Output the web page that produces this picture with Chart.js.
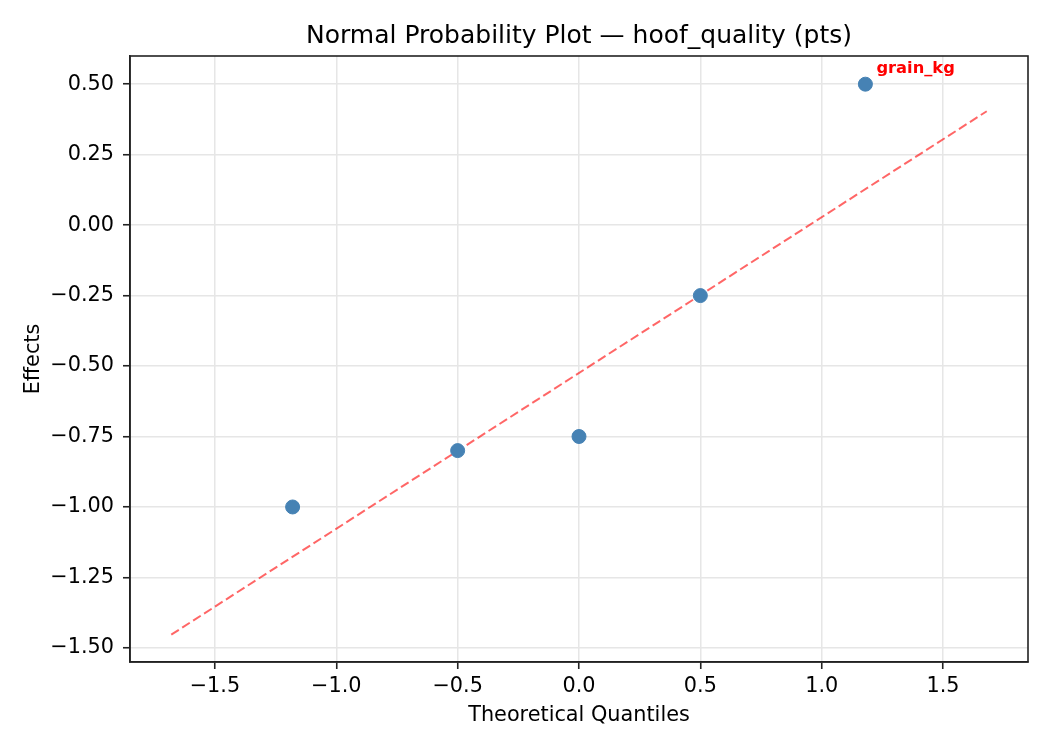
<!DOCTYPE html>
<html>
<head>
<meta charset="utf-8">
<title>Normal Probability Plot</title>
<script src="https://cdn.jsdelivr.net/npm/chart.js@4/dist/chart.umd.min.js"></script>
<style>
  html, body { margin: 0; padding: 0; background: #fff; }
  #grafico { display: block; }
</style>
</head>
<body>
<canvas id="grafico" width="1050" height="750"></canvas>
<script>
// Quantis teóricos (Blom) e efeitos estimados
const quantis = [-1.18, -0.50, 0.0, 0.50, 1.18];
const efeitos = [-1.00, -0.80, -0.75, -0.25, 0.50];

// Reta de referência tracejada
const retaX = [-1.68, 1.68];
const retaY = [-1.453, 0.404];

// Pontos rotulados
const rotulosNomes = ['grain_kg'];
const rotulosIndices = [4];

const titulo = 'Normal Probability Plot — hoof_quality (pts)';
const FONTE = '"DejaVu Sans", sans-serif';
const TAM = 20.8;

const menos = (s) => s.replace('-', '\u2212');
const fmtX = (v) => menos(v.toFixed(1));
const fmtY = (v) => menos(v.toFixed(2));

// Título centrado na área do gráfico, moldura (spines) e rótulos dos pontos
const extras = {
  id: 'extras',
  afterDraw(chart) {
    const { ctx, chartArea: a } = chart;
    ctx.save();
    ctx.strokeStyle = '#222';
    ctx.lineWidth = 1.6;
    ctx.strokeRect(a.left, a.top, a.right - a.left, a.bottom - a.top);

    ctx.fillStyle = '#000';
    ctx.font = `25px ${FONTE}`;
    ctx.textAlign = 'center';
    ctx.textBaseline = 'alphabetic';
    ctx.fillText(titulo, (a.left + a.right) / 2, 43);

    const meta = chart.getDatasetMeta(0);
    ctx.fillStyle = '#ff0000';
    ctx.font = `bold 16.3px ${FONTE}`;
    ctx.textAlign = 'left';
    rotulosNomes.forEach((nome, k) => {
      const p = meta.data[rotulosIndices[k]];
      ctx.fillText(nome, p.x + 11, p.y - 11);
    });
    ctx.restore();
  },
};

const gradeComum = {
  color: '#e6e6e6',
  lineWidth: 1.5,
  tickColor: '#222',
  tickWidth: 1.6,
  tickLength: 7,
};

new Chart(document.getElementById('grafico'), {
  type: 'scatter',
  data: {
    datasets: [
      {
        label: 'Efeitos',
        data: quantis.map((x, i) => ({ x, y: efeitos[i] })),
        backgroundColor: '#4682b4',
        borderColor: '#4682b4',
        pointRadius: 7,
        pointHoverRadius: 7,
      },
      {
        type: 'line',
        label: 'Reta',
        data: retaX.map((x, i) => ({ x, y: retaY[i] })),
        borderColor: 'rgba(255, 0, 0, 0.6)',
        borderWidth: 2,
        borderDash: [9, 4],
        pointRadius: 0,
        fill: false,
      },
    ],
  },
  options: {
    responsive: false,
    animation: false,
    devicePixelRatio: 1,
    layout: { padding: { top: 56, right: 22, left: 0, bottom: 0 } },
    plugins: { legend: { display: false }, tooltip: { enabled: false } },
    scales: {
      x: {
        type: 'linear',
        min: -1.85,
        max: 1.85,
        afterFit: (s) => { s.height = 88; },
        grid: gradeComum,
        border: { color: '#222', width: 1.6 },
        ticks: {
          stepSize: 0.5,
          includeBounds: false,
          padding: 5,
          color: '#000',
          font: { family: FONTE, size: TAM },
          callback: (v) => fmtX(v),
        },
        title: {
          display: true,
          text: 'Theoretical Quantiles',
          color: '#000',
          font: { family: FONTE, size: TAM },
          padding: { top: 0, bottom: 22 },
        },
      },
      y: {
        type: 'linear',
        min: -1.55,
        max: 0.6,
        afterFit: (s) => { s.width = 130; },
        grid: gradeComum,
        border: { color: '#222', width: 1.6 },
        ticks: {
          stepSize: 0.25,
          includeBounds: false,
          padding: 9,
          color: '#000',
          font: { family: FONTE, size: TAM },
          callback: (v) => fmtY(v),
        },
        title: {
          display: true,
          text: 'Effects',
          color: '#000',
          font: { family: FONTE, size: TAM },
          padding: { top: 21, bottom: 0 },
        },
      },
    },
  },
  plugins: [extras],
});
</script>
</body>
</html>
